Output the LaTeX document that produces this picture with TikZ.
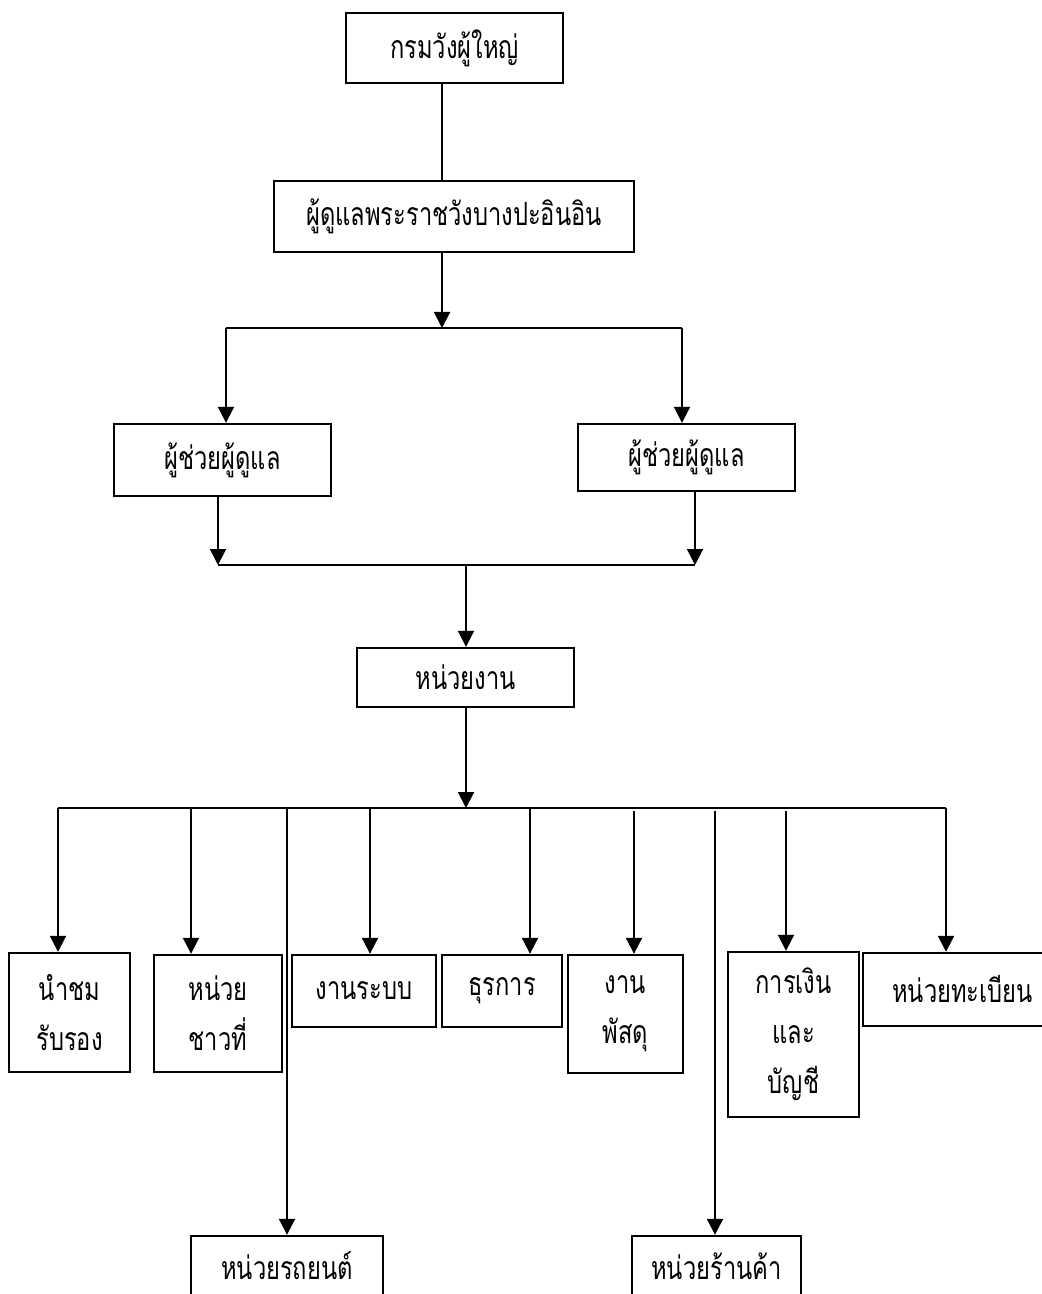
\documentclass[tikz,border=0pt]{standalone}
\usepackage{fontspec}
\newfontfamily\thai[Script=Thai,FakeStretch=0.74]{Loma}
\usetikzlibrary{arrows.meta}

\begin{document}
\begin{tikzpicture}[x=0.5pt,y=-0.5pt,line width=1pt,
    box/.style={draw,line width=1.2pt,inner sep=0pt,align=center,
      font=\thai\fontsize{16}{25}\selectfont},
    arr/.style={-{Triangle[length=8pt,width=8pt]}}]
    \useasboundingbox (0,0) rectangle (1042,1294);
    % boxes
    \node[box,minimum width=108.5pt,minimum height=35pt] (top) at (454.5,48) {กรมวังผู้ใหญ่};
    \node[box,minimum width=180pt,minimum height=35.5pt] (chief) at (454,216.5) {ผู้ดูแลพระราชวังบางปะอินอิน};
    \node[box,minimum width=108.5pt,minimum height=36pt] (asstL) at (222.5,460) {ผู้ช่วยผู้ดูแล};
    \node[box,minimum width=108.5pt,minimum height=33.5pt] (asstR) at (686.5,457.5) {ผู้ช่วยผู้ดูแล};
    \node[box,minimum width=108.5pt,minimum height=29.5pt] (unit) at (465.5,677.5) {หน่วยงาน};
    \node[box,minimum width=60.5pt,minimum height=59.5pt] (tour) at (69.5,1012.5) {นำชม\\รับรอง};
    \node[box,minimum width=64pt,minimum height=58.5pt] (chaoti) at (218,1013.5) {หน่วย\\ชาวที่};
    \node[box,minimum width=72pt,minimum height=36pt] (system) at (364,991) {งานระบบ};
    \node[box,minimum width=60pt,minimum height=36pt] (admin) at (502,991) {ธุรการ};
    \node[box,minimum width=57.5pt,minimum height=59pt] (supply) at (625.5,1014) {งาน\\พัสดุ};
    \node[box,minimum width=65.5pt,minimum height=82.5pt] (finance) at (793.5,1034.5) {การเงิน\\และ\\บัญชี};
    \node[box,minimum width=99.5pt,minimum height=36.5pt] (registry) at (962.5,989.5) {หน่วยทะเบียน};
    \node[box,minimum width=96pt,minimum height=30pt] (car) at (287,1266) {หน่วยรถยนต์};
    \node[box,minimum width=84.5pt,minimum height=30pt] (shop) at (716.5,1266) {หน่วยร้านค้า};
    % top lines
    \coordinate (bus1) at (442,328);
    \coordinate (b1l) at (226,328);
    \coordinate (b1r) at (682,328);
    \draw (top.south -| bus1) -- (chief.north -| bus1);
    \draw[arr] (chief.south -| bus1) -- (bus1);
    \draw (b1l) -- (b1r);
    \draw[arr] (b1l) -- (asstL.north -| b1l);
    \draw[arr] (b1r) -- (asstR.north -| b1r);
    % middle lines
    \coordinate (bus2) at (466,565);
    \coordinate (b2l) at (218,565);
    \coordinate (b2r) at (695,565);
    \draw[arr] (asstL.south -| b2l) -- (b2l);
    \draw[arr] (asstR.south -| b2r) -- (b2r);
    \draw (b2l) -- (b2r);
    \draw[arr] (bus2) -- (unit.north -| bus2);
    % bottom lines
    \coordinate (bus3) at (466,808);
    \draw[arr] (unit.south -| bus3) -- (bus3);
    \draw (58,808) coordinate (b3l) -- (946,808) coordinate (b3r);
    \foreach \x/\n in {58/tour,191/chaoti,287/car,370/system,530/admin,946/registry}{
        \coordinate (d) at (\x,808);
        \draw[arr] (d) -- (\n.north -| d);
    }
    \foreach \x/\n in {634/supply,715/shop,786/finance}{
        \coordinate (d) at (\x,811);
        \draw[arr] (d) -- (\n.north -| d);
    }
\end{tikzpicture}
\end{document}
